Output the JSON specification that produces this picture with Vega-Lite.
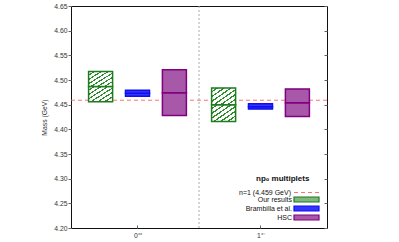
{
  "$schema": "https://vega.github.io/schema/vega-lite/v6.json",
  "width": 256,
  "height": 222,
  "autosize": "none",
  "padding": {"left": 71, "top": 6, "right": 72, "bottom": 14},
  "background": "white",
  "config": {
    "font": "Liberation Sans",
    "view": {"stroke": "#111", "strokeWidth": 1},
    "axis": {"grid": false, "domain": false, "tickColor": "#666", "tickWidth": 1, "labelColor": "#333", "labelFontSize": 6.8, "titleColor": "#333", "titleFontSize": 6.8, "titleFontWeight": "normal"},
    "legend": {"padding": 0, "labelFont": "Liberation Sans", "labelFontSize": 7, "labelColor": "#111", "labelAlign": "right"}
  },
  "datasets": {
    "boxes": [
      {"state": "0++", "series": "Our results", "pos": 0.4, "lo": 4.456, "mid": 4.487, "hi": 4.517},
      {"state": "0++", "series": "Brambilla et al.", "pos": 1.0, "lo": 4.467, "mid": 4.473, "hi": 4.479},
      {"state": "0++", "series": "HSC", "pos": 1.6, "lo": 4.428, "mid": 4.474, "hi": 4.521},
      {"state": "1+-", "series": "Our results", "pos": 2.4, "lo": 4.416, "mid": 4.450, "hi": 4.484},
      {"state": "1+-", "series": "Brambilla et al.", "pos": 3.0, "lo": 4.441, "mid": 4.446, "hi": 4.452},
      {"state": "1+-", "series": "HSC", "pos": 3.6, "lo": 4.426, "mid": 4.454, "hi": 4.482}
    ],
    "threshold": [{"label": "n=1 (4.459 GeV)", "mass": 4.459}],
    "separator": [{"sep": 2}]
  },
  "resolve": {"axis": {"y": "independent"}},
  "layer": [
    {
      "data": {"name": "separator"},
      "mark": {"type": "rule", "stroke": "#aaaaaa", "strokeDash": [2, 2], "strokeWidth": 1},
      "encoding": {
        "x": {"field": "sep", "type": "quantitative", "scale": {"domain": [0, 4]},
          "axis": {"values": [1, 3], "labelExpr": "datum.value == 1 ? '0⁺⁺' : '1⁺⁻'", "tickSize": -3, "labelPadding": 7, "title": null}}
      }
    },
    {
      "data": {"name": "threshold"},
      "mark": {"type": "rule", "stroke": "#ff5a5a", "strokeWidth": 1, "opacity": 0.85},
      "encoding": {
        "y": {"field": "mass", "type": "quantitative", "scale": {"domain": [4.2, 4.65]},
          "axis": {"orient": "left", "values": [4.2, 4.25, 4.3, 4.35, 4.4, 4.45, 4.5, 4.55, 4.6, 4.65], "format": ".2f", "tickSize": 3, "labelPadding": 1, "title": "Mass (GeV)", "titlePadding": 6}},
        "strokeDash": {"field": "label", "type": "nominal", "scale": {"range": [[4, 3]]},
          "legend": {"title": "np₀ multiplets", "titleFont": "Liberation Sans", "titleFontSize": 8, "titleFontWeight": "bold", "titleColor": "#111", "titlePadding": 6, "orient": "none", "legendX": 185, "legendY": 169, "symbolType": "M-5,0H5", "symbolSize": 25, "symbolOffset": 47, "symbolStrokeColor": "#ff5a5a", "symbolStrokeWidth": 1, "labelAlign": "right", "labelOffset": -19,
            "encode": {"symbols": {"update": {"stroke": {"value": "#ff6a6a"}}}}}}
      }
    },
    {
      "data": {"name": "boxes"},
      "mark": {"type": "bar", "width": 24, "strokeWidth": 1.5},
      "encoding": {
        "x": {"field": "pos", "type": "quantitative", "scale": {"domain": [0, 4]},
          "axis": {"values": [1, 3], "labelExpr": "datum.value == 1 ? '0⁺⁺' : '1⁺⁻'", "tickSize": -3, "labelPadding": 7, "title": null}},
        "y": {"field": "lo", "type": "quantitative", "scale": {"domain": [4.2, 4.65]},
          "axis": {"orient": "right", "values": [4.2, 4.25, 4.3, 4.35, 4.4, 4.45, 4.5, 4.55, 4.6, 4.65], "labels": false, "tickSize": -3, "title": null}},
        "y2": {"field": "mid"},
        "fill": {"field": "series", "type": "nominal",
          "condition": {"test": "datum.series === 'Our results'", "value":
              {"gradient": "linear", "x1": 0, "y1": 0, "x2": 1, "y2": 1, "stops": [
                {"offset": 0, "color": "#ffffff"}, {"offset": 0.0975, "color": "#ffffff"}, {"offset": 0.0975, "color": "#2e8b2e"}, {"offset": 0.1429, "color": "#2e8b2e"},
                {"offset": 0.1429, "color": "#ffffff"}, {"offset": 0.2404, "color": "#ffffff"}, {"offset": 0.2404, "color": "#2e8b2e"}, {"offset": 0.2857, "color": "#2e8b2e"},
                {"offset": 0.2857, "color": "#ffffff"}, {"offset": 0.3832, "color": "#ffffff"}, {"offset": 0.3832, "color": "#2e8b2e"}, {"offset": 0.4286, "color": "#2e8b2e"},
                {"offset": 0.4286, "color": "#ffffff"}, {"offset": 0.5261, "color": "#ffffff"}, {"offset": 0.5261, "color": "#2e8b2e"}, {"offset": 0.5714, "color": "#2e8b2e"},
                {"offset": 0.5714, "color": "#ffffff"}, {"offset": 0.6689, "color": "#ffffff"}, {"offset": 0.6689, "color": "#2e8b2e"}, {"offset": 0.7143, "color": "#2e8b2e"},
                {"offset": 0.7143, "color": "#ffffff"}, {"offset": 0.8118, "color": "#ffffff"}, {"offset": 0.8118, "color": "#2e8b2e"}, {"offset": 0.8571, "color": "#2e8b2e"},
                {"offset": 0.8571, "color": "#ffffff"}, {"offset": 0.9546, "color": "#ffffff"}, {"offset": 0.9546, "color": "#2e8b2e"}, {"offset": 1, "color": "#2e8b2e"}]}},
          "scale": {"domain": ["Our results", "Brambilla et al.", "HSC"], "range": ["#7fb87f", "#3434ff", "#a858a8"]},
          "legend": {"title": null, "orient": "none", "legendX": 232, "legendY": 190, "symbolType": "M-5,-1H5V1H-5Z", "symbolSize": 25, "symbolStrokeWidth": 1.2, "symbolOpacity": 1, "labelOffset": -18, "rowPadding": -2}},
        "stroke": {"field": "series", "type": "nominal",
          "scale": {"domain": ["Our results", "Brambilla et al.", "HSC"], "range": ["#1e7b1e", "#1010ee", "#800080"]},
          "legend": {"title": null, "orient": "none", "legendX": 232, "legendY": 190, "symbolType": "M-5,-1H5V1H-5Z", "symbolSize": 25, "symbolStrokeWidth": 1.2, "labelOffset": -18, "rowPadding": -2}}
      }
    },
    {
      "data": {"name": "boxes"},
      "mark": {"type": "bar", "width": 24, "strokeWidth": 1.5},
      "encoding": {
        "x": {"field": "pos", "type": "quantitative", "scale": {"domain": [0, 4]},
          "axis": {"values": [1, 3], "labelExpr": "datum.value == 1 ? '0⁺⁺' : '1⁺⁻'", "tickSize": -3, "labelPadding": 7, "title": null}},
        "y": {"field": "mid", "type": "quantitative", "scale": {"domain": [4.2, 4.65]}, "axis": null},
        "y2": {"field": "hi"},
        "fill": {"field": "series", "type": "nominal",
          "condition": {"test": "datum.series === 'Our results'", "value":
              {"gradient": "linear", "x1": 0, "y1": 0, "x2": 1, "y2": 1, "stops": [
                {"offset": 0, "color": "#ffffff"}, {"offset": 0.0975, "color": "#ffffff"}, {"offset": 0.0975, "color": "#2e8b2e"}, {"offset": 0.1429, "color": "#2e8b2e"},
                {"offset": 0.1429, "color": "#ffffff"}, {"offset": 0.2404, "color": "#ffffff"}, {"offset": 0.2404, "color": "#2e8b2e"}, {"offset": 0.2857, "color": "#2e8b2e"},
                {"offset": 0.2857, "color": "#ffffff"}, {"offset": 0.3832, "color": "#ffffff"}, {"offset": 0.3832, "color": "#2e8b2e"}, {"offset": 0.4286, "color": "#2e8b2e"},
                {"offset": 0.4286, "color": "#ffffff"}, {"offset": 0.5261, "color": "#ffffff"}, {"offset": 0.5261, "color": "#2e8b2e"}, {"offset": 0.5714, "color": "#2e8b2e"},
                {"offset": 0.5714, "color": "#ffffff"}, {"offset": 0.6689, "color": "#ffffff"}, {"offset": 0.6689, "color": "#2e8b2e"}, {"offset": 0.7143, "color": "#2e8b2e"},
                {"offset": 0.7143, "color": "#ffffff"}, {"offset": 0.8118, "color": "#ffffff"}, {"offset": 0.8118, "color": "#2e8b2e"}, {"offset": 0.8571, "color": "#2e8b2e"},
                {"offset": 0.8571, "color": "#ffffff"}, {"offset": 0.9546, "color": "#ffffff"}, {"offset": 0.9546, "color": "#2e8b2e"}, {"offset": 1, "color": "#2e8b2e"}]}},
          "legend": null},
        "stroke": {"field": "series", "type": "nominal", "legend": null}
      }
    }
  ]
}
